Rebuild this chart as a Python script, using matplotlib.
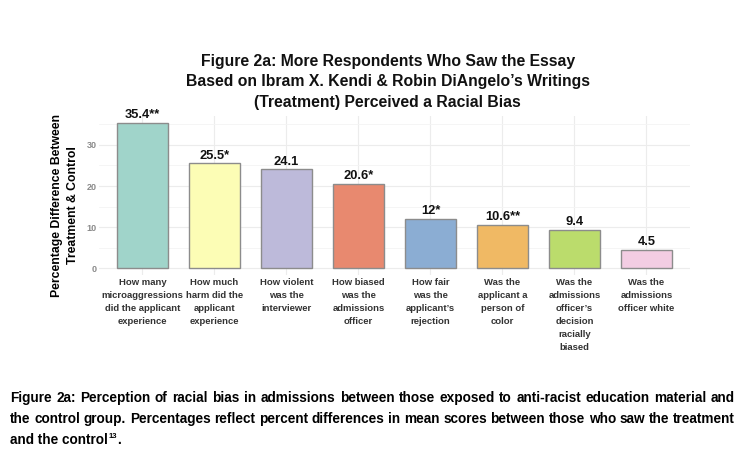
import matplotlib
matplotlib.use("Agg")
import matplotlib.pyplot as plt
from matplotlib.ticker import MultipleLocator

# ── Data ────────────────────────────────────────────────────────
questions = [
    "How many\nmicroaggressions\ndid the applicant\nexperience",
    "How much\nharm did the\napplicant\nexperience",
    "How violent\nwas the\ninterviewer",
    "How biased\nwas the\nadmissions\nofficer",
    "How fair\nwas the\napplicant\u2019s\nrejection",
    "Was the\napplicant a\nperson of\ncolor",
    "Was the\nadmissions\nofficer\u2019s\ndecision\nracially\nbiased",
    "Was the\nadmissions\nofficer white",
]
pct_diff = [35.4, 25.5, 24.1, 20.6, 12.0, 10.6, 9.4, 4.5]
bar_labels = ["35.4**", "25.5*", "24.1", "20.6*", "12*", "10.6**", "9.4", "4.5"]
bar_colors = ["#A0D4CA", "#FCFDB5", "#BDBADA", "#E8896F",
              "#8BADD3", "#F0B964", "#BBDC6C", "#F3CDE3"]
y_ticks = [0, 10, 20, 30]

title = ("Figure 2a: More Respondents Who Saw the Essay\n"
         "Based on Ibram X. Kendi & Robin DiAngelo\u2019s Writings\n"
         "(Treatment) Perceived a Racial Bias")
caption_lines = [
    "Figure 2a: Perception of racial bias in admissions between those exposed to anti-racist education material and",
    "the control group. Percentages reflect percent differences in mean scores between those who saw the treatment",
    "and the control",
]

plt.rcParams["font.family"] = ["Liberation Sans", "DejaVu Sans"]

fig = plt.figure(figsize=(7.43, 4.53), dpi=100)
ax = fig.add_axes([0.1336, 0.392, 0.7946, 0.353])

x = range(len(pct_diff))
ax.bar(x, pct_diff, width=0.7, color=bar_colors, edgecolor="#8c8c8c",
       linewidth=1.0, zorder=3)
for i, (v, lab) in enumerate(zip(pct_diff, bar_labels)):
    ax.annotate(lab, (i, v), xytext=(0, 1.0), textcoords="offset points",
                ha="center", va="bottom", fontsize=9.3, fontweight="bold",
                color="#111111")

ax.set_xlim(-0.6, len(pct_diff) - 0.4)
ax.set_ylim(-0.05 * max(pct_diff), 1.05 * max(pct_diff))
ax.set_yticks(y_ticks)
ax.yaxis.set_minor_locator(MultipleLocator(5))
ax.set_xticks(list(x))
ax.set_xticklabels(questions, fontsize=6.8, fontweight="bold", color="#333333",
                   linespacing=1.58, va="top")
ax.tick_params(axis="x", length=0, pad=1.5)
ax.tick_params(axis="y", which="both", length=0, pad=2, labelsize=6.5,
               labelcolor="#8a8a8a")
for lab in ax.get_yticklabels():
    lab.set_fontweight("bold")
ax.grid(True, which="major", color="#ececec", linewidth=0.8, zorder=0)
ax.grid(True, which="minor", axis="y", color="#f4f4f4", linewidth=0.6, zorder=0)
for s in ax.spines.values():
    s.set_visible(False)

fig.text(0.077, 0.547, "Percentage Difference Between", rotation=90,
         ha="center", va="center", fontsize=8.8, fontweight="bold")
fig.text(0.098, 0.547, "Treatment & Control", rotation=90,
         ha="center", va="center", fontsize=8.8, fontweight="bold")

fig.text(0.522, 0.819, title, ha="center", va="center", fontsize=11.3,
         fontweight="bold", linespacing=1.45, color="#111111")

# caption below the chart, justified lines like the source document
renderer = fig.canvas.get_renderer()
W = fig.bbox.width
cap_left, cap_right = 10, 735
cap_y = [1 - 402 / 453, 1 - 423 / 453, 1 - 444 / 453]
cap_kw = dict(ha="left", va="baseline", fontsize=9.8, fontweight="bold")


def _width(s, **kw):
    t = fig.text(0, 0, s, **kw)
    w = t.get_window_extent(renderer).width
    t.remove()
    return w


for line, yy in zip(caption_lines[:2], cap_y[:2]):
    words = line.split(" ")
    widths = [_width(w, **cap_kw) for w in words]
    gap = (cap_right - cap_left - sum(widths)) / (len(words) - 1)
    xpos = cap_left
    for w, ww in zip(words, widths):
        fig.text(xpos / W, yy, w, **cap_kw)
        xpos += ww + gap

last = fig.text(cap_left / W, cap_y[2], caption_lines[2], **cap_kw)
bb = last.get_window_extent(renderer)
sup = fig.text(bb.x1 / W + 0.001, cap_y[2] + 0.013, "13", ha="left",
               va="baseline", fontsize=5.5, fontweight="bold")
bb2 = sup.get_window_extent(renderer)
fig.text(bb2.x1 / W, cap_y[2], ".", **cap_kw)

fig.savefig("out.png", dpi=100)
